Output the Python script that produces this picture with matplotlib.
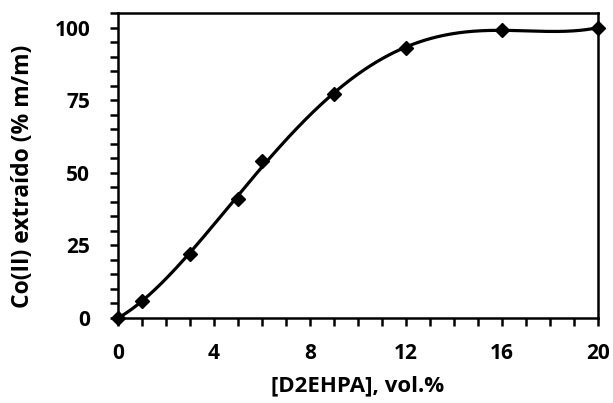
import numpy as np
import matplotlib
matplotlib.use('Agg')
import matplotlib.pyplot as plt
from matplotlib.ticker import MultipleLocator

plt.rcParams['font.family'] = ['Open Sans', 'DejaVu Sans']
plt.rcParams['font.weight'] = 'bold'

# dados
d2ehpa = [0, 1, 3, 5, 6, 9, 12, 16, 20]
co_extraido = [0, 6, 22, 41, 54, 77, 93, 99.3, 99.9]

# linha de tendência suave (ajuste polinomial de grau 4)
coef = np.polyfit(d2ehpa, co_extraido, 4)
xs = np.linspace(0, 20, 400)
ys = np.polyval(coef, xs)

fig = plt.figure(figsize=(6.13, 4.03), dpi=100)
ax = fig.add_axes([0.1925, 0.2110, 0.783, 0.7567])

ax.plot(xs, ys, color='black', lw=2.3, zorder=2, clip_on=False)
ax.plot(d2ehpa, co_extraido, linestyle='none', marker='D', ms=7,
        color='black', zorder=3, clip_on=False)

ax.set_xlim(0, 20)
ax.set_ylim(0, 105)
ax.xaxis.set_major_locator(MultipleLocator(4))
ax.xaxis.set_minor_locator(MultipleLocator(1))
ax.yaxis.set_major_locator(MultipleLocator(25))
ax.yaxis.set_minor_locator(MultipleLocator(5))
ax.tick_params(which='both', direction='out', width=1.8, length=6,
               labelsize=15, top=False, right=False)
ax.tick_params(axis='x', pad=12)
ax.tick_params(axis='y', pad=14)
for s in ax.spines.values():
    s.set_linewidth(1.8)

ax.set_xlabel('[D2EHPA], vol.%', fontsize=16, fontweight='bold', labelpad=8)
ax.set_ylabel('Co(II) extraído (% m/m)', fontsize=16.5, fontweight='bold')
ax.yaxis.set_label_coords(-0.172, 0.465)

fig.savefig('out.png', dpi=100)
